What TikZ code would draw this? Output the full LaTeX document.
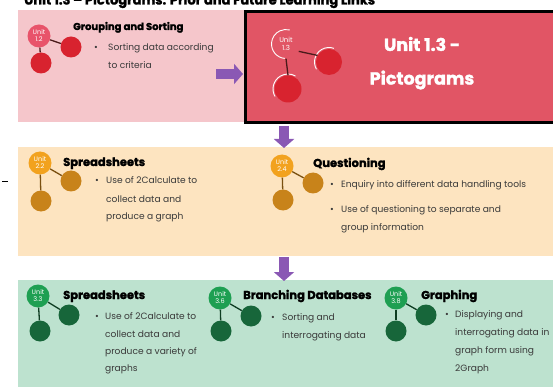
\documentclass[tikz,border=0pt]{standalone}
\usepackage{fontspec}
\setmainfont{Poppins}
\newfontfamily\heavyfont{Poppins}[BoldFeatures={FakeBold=1.6}]
\usetikzlibrary{arrows.meta}

\definecolor{pinkbg}{HTML}{F5C6CB}
\definecolor{redbox}{HTML}{E15565}
\definecolor{redbig}{HTML}{E8536A}
\definecolor{redsmall}{HTML}{D8232F}
\definecolor{redline}{HTML}{4A1A1A}
\definecolor{orangebg}{HTML}{FDE4C0}
\definecolor{orangebig}{HTML}{F2A21E}
\definecolor{orangesmall}{HTML}{C8831A}
\definecolor{orangeline}{HTML}{7A5010}
\definecolor{greenbg}{HTML}{BDE2CF}
\definecolor{greenbig}{HTML}{1E9F52}
\definecolor{greensmall}{HTML}{17663A}
\definecolor{greenline}{HTML}{0E3D22}
\definecolor{flowpurple}{HTML}{8A58B4}
\definecolor{bodygray}{HTML}{3A3A3A}

\tikzset{
  panel/.style={draw=none, inner sep=0pt, outer sep=0pt, anchor=north west},
  bigdot/.style={circle, minimum size=23pt, inner sep=0pt, text=white,
    font=\fontsize{6.5}{7}\selectfont, align=center},
  smalldot/.style={circle, minimum size=21pt, inner sep=0pt},
  head/.style={font=\heavyfont\bfseries\fontsize{11.5}{12}\selectfont, anchor=base west, inner sep=0pt},
  body/.style={font=\fontsize{9.1}{10}\selectfont, text=bodygray, anchor=base west, inner sep=0pt},
  bul/.style={font=\fontsize{9.1}{10}\selectfont, text=bodygray, anchor=base, inner sep=0pt},
  flow/.style={draw=flowpurple, line width=10pt, -{Triangle[width=20pt,length=9pt]}},
  link/.style={line width=1.3pt},
  bigtitle/.style={font=\heavyfont\bfseries\fontsize{17.5}{18}\selectfont, text=white, inner sep=0pt},
}

% unit badge: big numbered circle with two linked dots
% #1 name, #2 big centre, #3 side centre, #4 lower centre,
% #5 big colour, #6 dot colour, #7 link colour, #8 label
\newcommand\unitbadge[8]{%
  \node[smalldot, fill=#6] (#1r) at #3 {};
  \node[smalldot, fill=#6] (#1b) at #4 {};
  \node[bigdot, fill=#5] (#1) at #2 {#8};
  \draw[link, #7] (#1) -- (#1r);
  \draw[link, #7] (#1) -- (#1b);
}

\begin{document}
\begin{tikzpicture}[x=1pt, y=-1pt]
\useasboundingbox (0,0) rectangle (553,387);
\clip (0,0) rectangle (553,387);

% heading strip along the top edge
\node[font=\heavyfont\bfseries\fontsize{13}{14}\selectfont, anchor=base west, inner sep=0pt] (title)
  at (24,4.5) {Unit 1.3 – Pictograms: Prior and Future Learning Links};

% ---------- panels ----------
\node[panel, fill=pinkbg, minimum width=230pt, minimum height=112pt] (pinkpanel) at (18,10) {};
\node[panel, fill=redbox, draw=black, line width=3pt, minimum width=320pt, minimum height=111pt] (redpanel) at (245,12) {};
\node[panel, fill=orangebg, minimum width=540pt, minimum height=109pt] (orangepanel) at (18,147) {};
\node[panel, fill=greenbg, minimum width=540pt, minimum height=110pt] (greenpanel) at (18,280) {};

% ---------- flow arrows ----------
\coordinate (f1s) at (216,74);
\coordinate (f1e) at (243,74);
\draw[flow] (f1s) -- (f1e);
\coordinate (f2s) at (284,126);
\coordinate (f2e) at (284,148);
\draw[flow] (f2s) -- (f2e);
\coordinate (f3s) at (284,257);
\coordinate (f3e) at (284,281);
\draw[flow] (f3s) -- (f3e);

% ---------- Unit 1.2 ----------
\unitbadge{u12}{(39,36)}{(71,47)}{(41,63)}{redbig}{redsmall}{redline}{Unit\\1.2}
\node[head, font=\heavyfont\bfseries\fontsize{10}{11}\selectfont] (h12) at (73,30) {Grouping and Sorting};
\node[bul] (b12) at (96,51) {•};
\node[body] (t12a) at (108,51) {Sorting data according};
\node[body] (t12b) at (108,69) {to criteria};

% ---------- Unit 1.3 ----------
\node[smalldot, minimum size=26pt, fill=redsmall] (u13r) at (329,62) {};
\node[smalldot, minimum size=27pt, fill=redsmall] (u13b) at (288,89) {};
\node[circle, minimum size=29pt, inner sep=0pt, text=white,
  font=\fontsize{7}{8}\selectfont, align=center] (u13) at (286,44) {Unit\\1.3};
\draw[white, line width=0.9pt] ([shift={(95:14.5)}]u13.center) arc (95:285:14.5);
\draw[white, line width=0.9pt] ([shift={(150:14.5)}]u13r.center) arc (150:290:14.5);
\draw[white, line width=0.9pt] ([shift={(150:15)}]u13b.center) arc (150:300:15);
\draw[link, redline] (u13.-30) -- (u13r.150);
\draw[link, redline] (u13.south) -- (u13b.north);
\node[bigtitle] (t13a) at (422,44) {Unit 1.3 -};
\node[bigtitle] (t13b) at (422,80) {Pictograms};

% ---------- Unit 2.2 ----------
\unitbadge{u22}{(40,163)}{(71,181)}{(41,201)}{orangebig}{orangesmall}{orangeline}{Unit\\2.2}
\node[head] (h22) at (63,166) {Spreadsheets};
\node[bul] (b22) at (97,184) {•};
\node[body] (t22a) at (106,184) {Use of 2Calculate to};
\node[body] (t22b) at (106,202) {collect data and};
\node[body] (t22c) at (106,219) {produce a graph};

% ---------- Unit 2.4 ----------
\unitbadge{u24}{(282,166)}{(313,183)}{(283,200)}{orangebig}{orangesmall}{orangeline}{Unit\\2.4}
\node[head] (h24) at (313,167) {Questioning};
\node[bul] (b24a) at (332,188) {•};
\node[body] (t24a) at (341,188) {Enquiry into different data handling tools};
\node[bul] (b24b) at (332,212) {•};
\node[body] (t24b) at (341,212) {Use of questioning to separate and};
\node[body] (t24c) at (341,230) {group information};

% ---------- Unit 3.3 ----------
\unitbadge{u33}{(38,296)}{(69,315)}{(40,331)}{greenbig}{greensmall}{greenline}{Unit\\3.3}
\node[head] (h33) at (63,299) {Spreadsheets};
\node[bul] (b33) at (97,319) {•};
\node[body] (t33a) at (105,319) {Use of 2Calculate to};
\node[body] (t33b) at (105,337) {collect data and};
\node[body] (t33c) at (105,354) {produce a variety of};
\node[body] (t33d) at (105,371) {graphs};

% ---------- Unit 3.6 ----------
\unitbadge{u36}{(220,298)}{(251,316)}{(221,331)}{greenbig}{greensmall}{greenline}{Unit\\3.6}
\node[head] (h36) at (243,299) {Branching Databases};
\node[bul] (b36) at (273,320) {•};
\node[body] (t36a) at (282,320) {Sorting and};
\node[body] (t36b) at (282,338) {interrogating data};

% ---------- Unit 3.8 ----------
\unitbadge{u38}{(396,298)}{(426,315)}{(396,331)}{greenbig}{greensmall}{greenline}{Unit\\3.8}
\node[head] (h38) at (421,299) {Graphing};
\node[bul] (b38) at (447,317) {•};
\node[body] (t38a) at (455,317) {Displaying and};
\node[body] (t38b) at (455,335) {interrogating data in};
\node[body] (t38c) at (455,353) {graph form using};
\node[body] (t38d) at (455,371) {2Graph};

% stray tick at the left margin
\draw[line width=0.8pt] (2,181) -- (8,181);
\end{tikzpicture}
\end{document}
